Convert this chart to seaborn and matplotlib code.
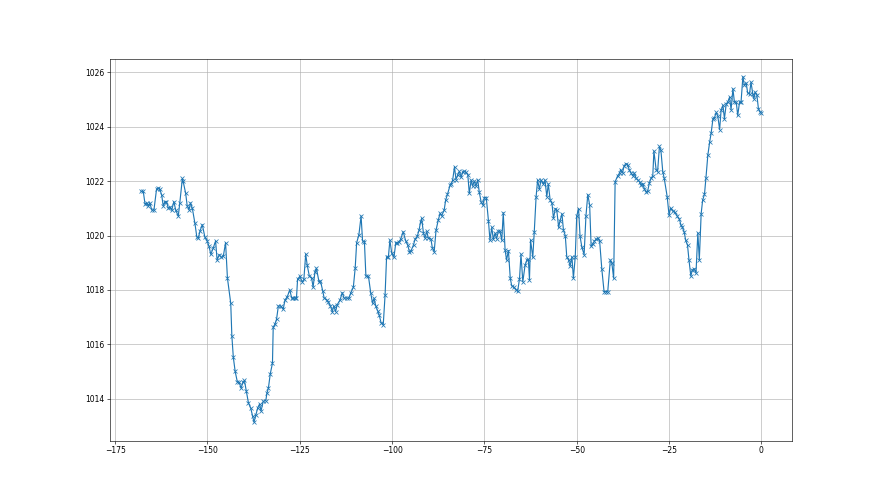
import numpy as np
import pandas as pd
import matplotlib
matplotlib.use("Agg")
import matplotlib.pyplot as plt
import seaborn as sns

# hours before now
hours = [
    -168.0, -167.4, -166.9, -166.5, -166.0, -165.6, -165.1, -164.5, -163.8, -163.3,
    -162.9, -162.4, -162.0, -161.5, -161.1, -160.6, -160.2, -159.7, -159.1, -158.6,
    -157.9, -157.5, -156.8, -156.6, -155.9, -155.5, -155.0, -154.6, -154.1, -153.4,
    -152.9, -152.5, -152.0, -151.4, -150.7, -150.1, -149.6, -149.1, -148.4, -147.8,
    -147.4, -146.8, -146.3, -145.7, -145.1, -144.6,
    -143.7, -143.4, -143.0, -142.5, -141.9, -141.4, -140.9, -140.4, -140.0, -139.5,
    -138.9, -138.3, -137.8, -137.4, -136.9, -136.4, -135.9, -135.5, -134.9, -134.2,
    -133.9, -133.5, -133.0, -132.4,
    -132.2, -131.7, -131.3, -130.8, -130.2, -129.5, -129.0, -128.4, -127.7, -127.2,
    -126.8, -126.3, -125.9, -125.6, -125.0, -124.3, -123.9, -123.4, -123.0, -122.4,
    -121.8, -121.4, -120.9, -120.5, -119.8, -119.4, -118.8, -118.4, -117.7, -117.3,
    -116.7, -116.2, -115.8, -115.3, -114.9, -114.1, -113.5, -113.0, -112.3, -111.7,
    -111.2, -110.5,
    -110.0, -109.6, -109.0, -108.4, -108.0, -107.5, -107.1, -106.4, -105.8, -105.3,
    -104.9, -104.4, -103.9, -103.5, -103.0, -102.4, -101.9, -101.5, -101.0, -100.6,
    -100.1, -99.5, -99.0, -98.6, -98.1, -97.7, -97.0, -96.3, -95.8, -95.3,
    -94.9, -94.2, -93.8, -93.2, -92.7, -92.3, -92.0, -91.5, -91.1, -90.6,
    -90.2, -89.5, -89.1, -88.6, -88.1, -87.5, -87.0, -86.6, -85.9, -85.5,
    -85.0, -84.3,
    -84.0, -83.6, -83.1, -82.7, -82.2, -81.8, -81.3, -80.9, -80.5, -80.0,
    -79.5, -79.1, -78.6, -78.2, -77.7, -77.3, -76.8, -76.4, -75.9, -75.4,
    -75.0, -74.5, -73.9, -73.5, -73.0, -72.6, -72.1, -71.7, -71.2, -70.8,
    -70.3, -69.9, -69.4, -69.0, -68.5, -68.0, -67.6, -67.0, -66.4, -66.0,
    -65.5, -65.1, -64.6, -64.0, -63.5, -63.1, -62.8, -62.5, -61.9, -61.5,
    -61.0, -60.6, -60.1, -59.7, -59.0, -58.6, -58.1, -57.7,
    -57.2, -56.7, -56.3, -55.8, -55.4, -54.9, -54.5, -54.0, -53.6, -53.1,
    -52.7, -52.2, -51.8, -51.3, -50.9, -50.4, -50.0, -49.5, -49.1, -48.6,
    -48.0, -47.5, -47.0, -46.5, -46.1, -45.6, -45.2, -44.7, -44.3, -43.8,
    -43.2, -42.6, -42.0, -41.6, -40.9, -40.5, -40.0, -39.6, -38.9, -38.4,
    -38.1, -37.6, -37.2, -36.7, -36.2, -35.8, -35.3, -34.8, -34.4, -33.9,
    -33.5, -33.0, -32.6, -32.1, -31.7, -31.2, -30.8, -30.3, -29.9, -29.4,
    -29.1, -28.5, -28.1, -27.6, -27.2, -26.7, -26.3, -25.5, -25.0, -24.6,
    -24.0, -23.4, -22.8, -22.2,
    -21.8, -21.4, -20.9, -20.5, -20.0, -19.6, -19.1, -18.7, -18.2, -17.7,
    -17.2, -16.8, -16.3, -15.9, -15.4, -15.0, -14.5, -14.0, -13.6, -13.1,
    -12.7, -12.2, -11.8, -11.3, -10.9, -10.4, -10.0, -9.5, -9.1, -8.6,
    -8.2, -7.7, -7.3, -6.8, -6.4, -5.9, -5.5, -5.0, -4.6, -4.1,
    -3.7, -3.2, -2.8, -2.3, -2.0, -1.7, -1.2, -0.8, -0.3, 0.0,
]

# pressure (hPa)
pressure = [
    1021.63, 1021.63, 1021.15, 1021.20, 1021.10, 1021.20, 1020.94, 1020.94, 1021.70, 1021.75,
    1021.70, 1021.49, 1021.10, 1021.25, 1021.25, 1021.00, 1021.05, 1020.93, 1021.25, 1020.93,
    1020.72, 1021.20, 1022.10, 1022.00, 1021.55, 1021.10, 1020.95, 1021.20, 1021.00, 1020.45,
    1019.96, 1019.90, 1020.18, 1020.40, 1019.94, 1019.81, 1019.61, 1019.31, 1019.56, 1019.80,
    1019.10, 1019.30, 1019.20, 1019.25, 1019.74, 1018.44,
    1017.51, 1016.31, 1015.52, 1015.00, 1014.61, 1014.60, 1014.39, 1014.60, 1014.67, 1014.30,
    1013.84, 1013.66, 1013.38, 1013.14, 1013.40, 1013.66, 1013.80, 1013.55, 1013.90, 1013.93,
    1014.21, 1014.39, 1014.91, 1015.31,
    1016.62, 1016.75, 1016.92, 1017.41, 1017.41, 1017.29, 1017.63, 1017.75, 1018.00, 1017.70,
    1017.70, 1017.70, 1017.70, 1018.39, 1018.50, 1018.29, 1018.39, 1019.32, 1018.92, 1018.50,
    1018.45, 1018.10, 1018.65, 1018.80, 1018.30, 1018.33, 1017.97, 1017.70, 1017.64, 1017.55,
    1017.41, 1017.20, 1017.41, 1017.20, 1017.45, 1017.63, 1017.90, 1017.70, 1017.70, 1017.70,
    1017.89, 1018.10,
    1018.80, 1019.74, 1020.02, 1020.72, 1019.80, 1019.78, 1018.51, 1018.50, 1017.90, 1017.51,
    1017.69, 1017.40, 1017.23, 1017.08, 1016.80, 1016.72, 1017.82, 1019.20, 1019.22, 1019.83,
    1019.35, 1019.20, 1019.74, 1019.74, 1019.78, 1019.86, 1020.14, 1019.80, 1019.66, 1019.40,
    1019.43, 1019.66, 1019.86, 1019.97, 1020.20, 1020.50, 1020.63, 1020.08, 1019.91, 1020.15,
    1019.91, 1019.88, 1019.55, 1019.41, 1020.20, 1020.57, 1020.82, 1020.72, 1020.94, 1021.30,
    1021.52, 1021.85,
    1021.90, 1022.04, 1022.53, 1022.06, 1022.24, 1022.36, 1022.15, 1022.33, 1022.36, 1022.33,
    1022.24, 1021.55, 1022.04, 1021.82, 1022.00, 1021.82, 1022.04, 1021.60, 1021.24, 1021.12,
    1021.40, 1021.40, 1020.53, 1019.83, 1020.30, 1019.86, 1020.08, 1019.88, 1020.17, 1020.17,
    1019.83, 1020.84, 1019.47, 1019.10, 1019.45, 1018.43, 1018.15, 1018.10, 1018.00, 1017.96,
    1018.40, 1019.31, 1018.30, 1018.90, 1019.10, 1019.12, 1018.38, 1019.83, 1019.20, 1020.14,
    1021.43, 1022.04, 1021.70, 1022.04, 1021.90, 1022.04, 1021.43, 1021.90,
    1021.31, 1021.18, 1020.63, 1020.99, 1020.93, 1020.30, 1020.55, 1020.80, 1020.20, 1020.00,
    1019.22, 1019.10, 1018.88, 1019.22, 1018.43, 1019.22, 1020.72, 1020.99, 1019.97, 1019.57,
    1019.30, 1020.73, 1021.51, 1021.12, 1019.60, 1019.70, 1019.80, 1019.87, 1019.90, 1019.80,
    1018.76, 1017.94, 1017.94, 1017.94, 1019.10, 1019.00, 1018.43, 1021.98, 1022.20, 1022.30,
    1022.43, 1022.30, 1022.55, 1022.65, 1022.60, 1022.43, 1022.30, 1022.20, 1022.30, 1022.10,
    1022.05, 1021.98, 1021.85, 1021.91, 1021.73, 1021.60, 1021.63, 1021.95, 1022.10, 1022.20,
    1023.11, 1022.43, 1022.35, 1023.28, 1023.13, 1022.35, 1022.10, 1021.43, 1020.75, 1021.00,
    1020.90, 1020.85, 1020.72, 1020.60,
    1020.40, 1020.30, 1020.14, 1019.83, 1019.65, 1019.10, 1018.51, 1018.73, 1018.78, 1018.62,
    1020.10, 1019.10, 1020.81, 1021.30, 1021.52, 1022.13, 1022.95, 1023.44, 1023.77, 1024.30,
    1024.34, 1024.53, 1024.40, 1023.90, 1024.61, 1024.79, 1024.30, 1024.85, 1024.91, 1025.09,
    1024.63, 1025.40, 1024.91, 1024.91, 1024.42, 1024.91, 1024.91, 1025.85, 1025.52, 1025.61,
    1025.24, 1025.22, 1025.64, 1025.19, 1025.03, 1025.28, 1025.16, 1024.67, 1024.54, 1024.50,
]

df = pd.DataFrame({"hours": hours, "pressure": pressure})

fig, ax = plt.subplots(figsize=(16, 9), dpi=55)
sns.lineplot(data=df, x="hours", y="pressure", ax=ax, sort=False, estimator=None,
             color="tab:blue", marker="x", markersize=6,
             markeredgecolor="tab:blue", markeredgewidth=1.0, linewidth=1.5)
ax.grid(True, color="#b0b0b0", linewidth=0.8)
ax.set_xlabel("")
ax.set_ylabel("")
ax.set_xlim(-176.4, 8.3)
ax.set_ylim(1012.46, 1026.48)

plt.savefig("out.png", dpi=55)
